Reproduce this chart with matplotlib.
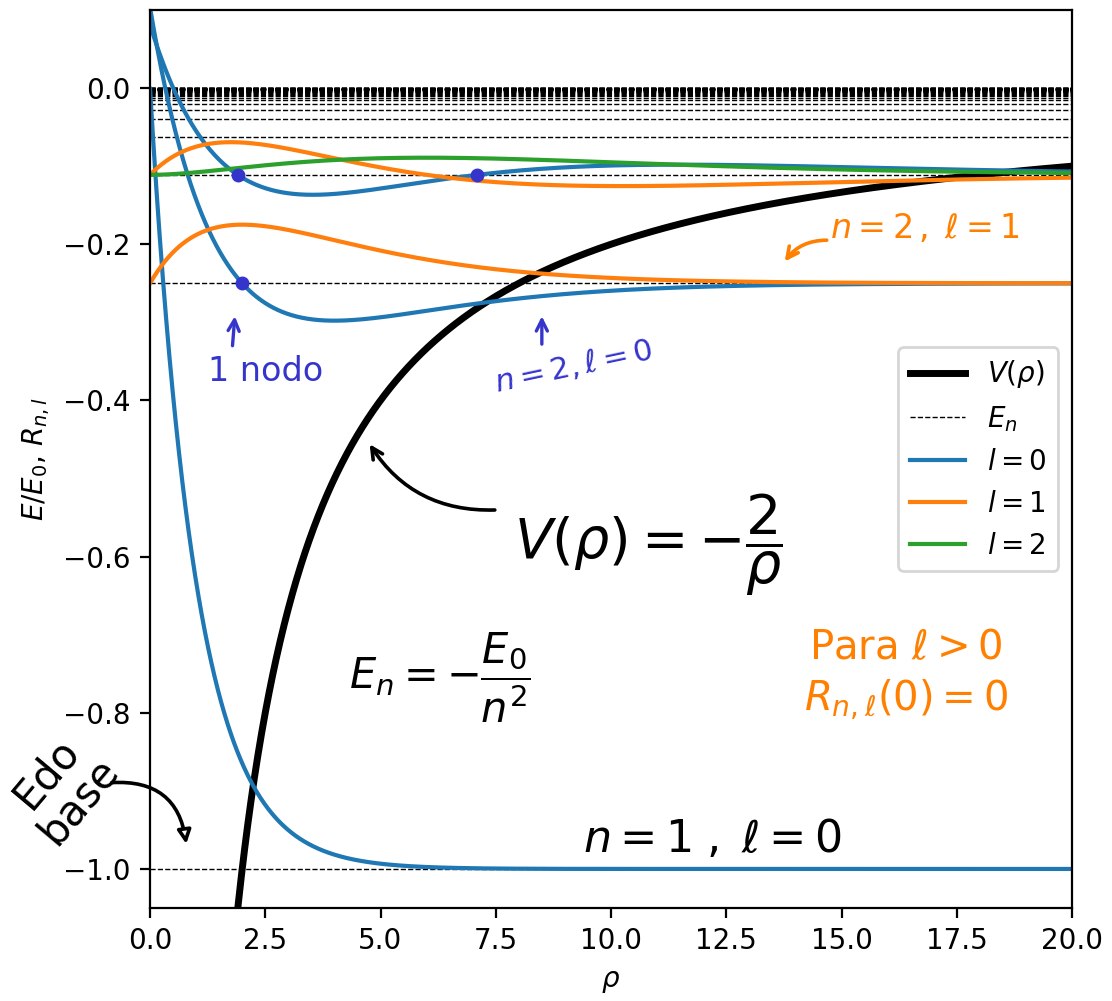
import numpy as np
import matplotlib.pyplot as plt

# energias E_n/E_0 = -1/n^2 y estados (n, l) dibujados
niveles = np.arange(1, 51)
estados = [(1, 0), (2, 0), (2, 1), (3, 0), (3, 1), (3, 2)]
escala = 0.5
nodos_x = [2.0, 1.9, 7.1]
nodos_y = [-0.25, -1/9, -1/9]

rho = np.linspace(1e-3, 20, 2000)


def R(n, l, r):
    if (n, l) == (1, 0):
        return 2*np.exp(-r)
    if (n, l) == (2, 0):
        return (1/np.sqrt(2))*(1 - r/2)*np.exp(-r/2)
    if (n, l) == (2, 1):
        return (1/np.sqrt(24))*r*np.exp(-r/2)
    if (n, l) == (3, 0):
        return (2/np.sqrt(27))*(1 - 2*r/3 + 2*r**2/27)*np.exp(-r/3)
    if (n, l) == (3, 1):
        return (8/(27*np.sqrt(6)))*r*(1 - r/6)*np.exp(-r/3)
    if (n, l) == (3, 2):
        return (4/(81*np.sqrt(30)))*r**2*np.exp(-r/3)


colores = {0: 'C0', 1: 'C1', 2: 'C2'}
azul = '#3535cc'
naranja = '#ff8000'

fig = plt.figure(figsize=(5.56, 5.005), dpi=200)
ax = fig.add_axes([150/1112, 1 - 908/1001, 922/1112, 898/1001])

ax.plot(rho, -2/rho, color='k', lw=2.5, label=r'$V(\rho)$')
for i, n in enumerate(niveles):
    ax.axhline(-1/n**2, color='k', ls='--', lw=0.5,
               label=r'$E_n$' if i == 0 else None)
vistos = set()
for n, l in estados:
    lab = r'$l=%d$' % l if l not in vistos else None
    vistos.add(l)
    ax.plot(rho, -1/n**2 + escala*R(n, l, rho), color=colores[l], lw=1.5, label=lab)

ax.set_xlim(0, 20)
ax.set_ylim(-1.05, 0.1)
ax.set_xlabel(r'$\rho$')
ax.set_ylabel(r'$E/E_0$, $R_{n,l}$')
ax.legend(loc='center right')

# anotaciones "a mano"
ax.plot(nodos_x, nodos_y, 'o', color=azul, ms=4)
ax.text(12.2, -0.962, r'$n = 1\;,\;\ell = 0$', fontsize=16, ha='center', va='center')
ax.text(10.8, -0.585, r'$V(\rho) = -\dfrac{2}{\rho}$', fontsize=20, ha='center', va='center')
ax.annotate('', xy=(4.7, -0.45), xytext=(7.6, -0.54),
            arrowprops=dict(arrowstyle='->', color='k', lw=1.3,
                            connectionstyle='arc3,rad=-0.3'))
ax.text(6.3, -0.755, r'$E_n = -\dfrac{E_0}{n^2}$', fontsize=15, ha='center', va='center')
ax.text(16.4, -0.752, 'Para $\\ell > 0$\n$R_{n,\\ell}(0) = 0$', fontsize=14.5,
        ha='center', va='center', color=naranja, linespacing=1.3)
ax.text(16.8, -0.18, r'$n=2\,,\;\ell=1$', fontsize=12, ha='center', va='center', color=naranja)
ax.annotate('', xy=(13.7, -0.228), xytext=(14.8, -0.195),
            arrowprops=dict(arrowstyle='->', color=naranja, lw=1.3,
                            connectionstyle='arc3,rad=0.3'))
ax.text(9.2, -0.356, r'$n=2, \ell=0$', fontsize=11, ha='center', va='center',
        color=azul, rotation=12)
ax.annotate('', xy=(8.5, -0.285), xytext=(8.5, -0.335),
            arrowprops=dict(arrowstyle='->', color=azul, lw=1.2))
ax.text(2.5, -0.363, '1 nodo', fontsize=12, ha='center', va='center', color=azul)
ax.annotate('', xy=(1.85, -0.285), xytext=(1.78, -0.337),
            arrowprops=dict(arrowstyle='->', color=azul, lw=1.2))
ax.text(-1.9, -0.895, 'Edo\nbase', fontsize=15, ha='center', va='center',
        rotation=50, linespacing=1.0)
ax.annotate('', xy=(0.8, -0.975), xytext=(-0.95, -0.89), annotation_clip=False,
            arrowprops=dict(arrowstyle='-|>', color='k', lw=1.3, fc='w',
                            connectionstyle='arc3,rad=-0.5'))

fig.savefig('out.png', dpi=200)
